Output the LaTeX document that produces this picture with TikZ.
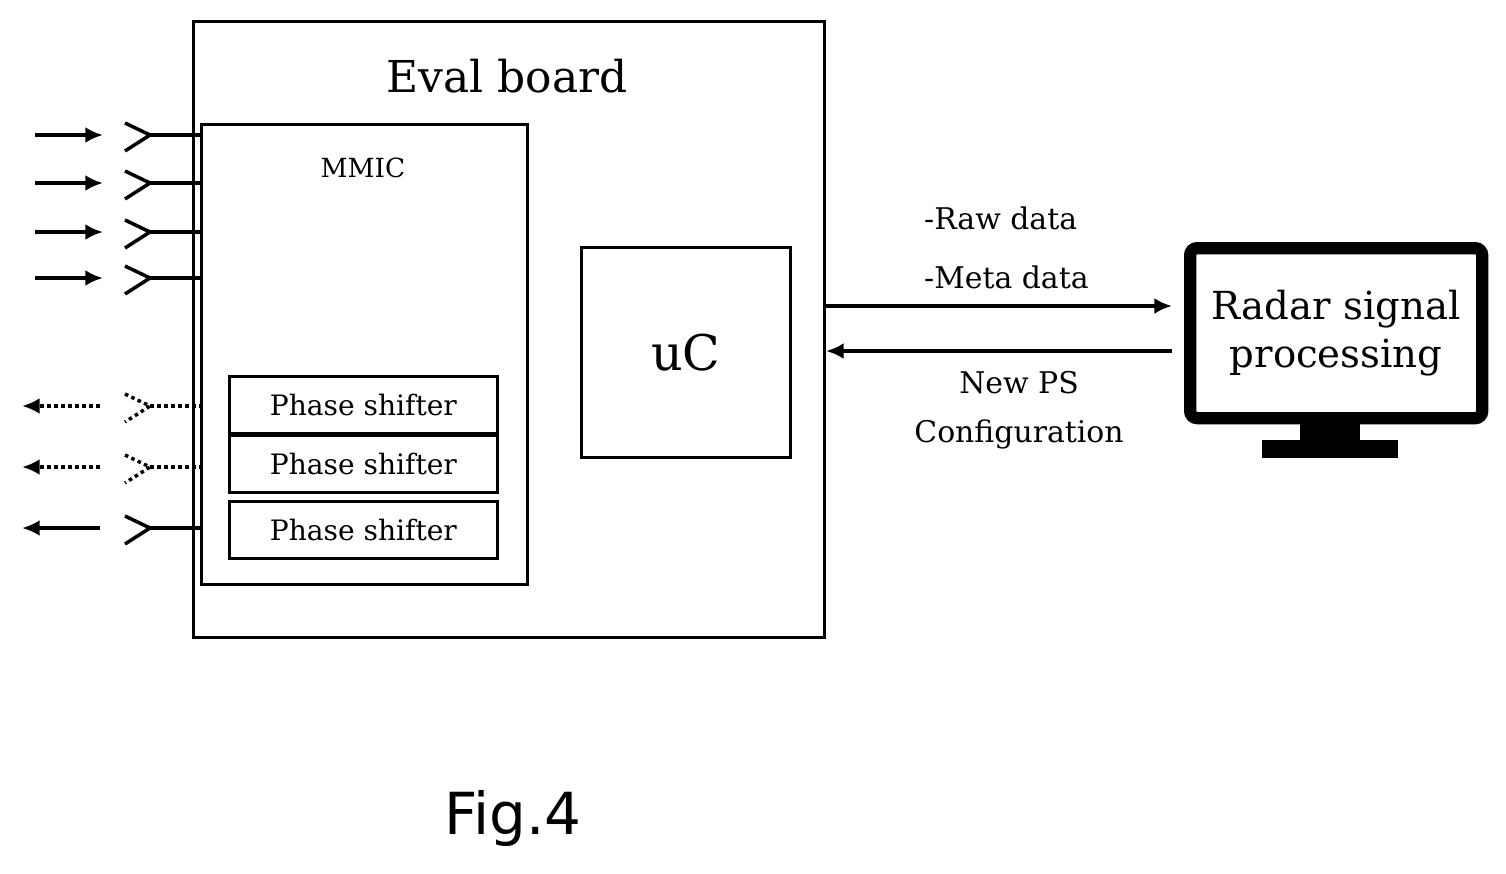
\documentclass[tikz,border=0pt]{standalone}
\usepackage{fontspec}
\setmainfont{DejaVu Serif}
\newfontfamily\figfont{DejaVu Sans}
\usetikzlibrary{arrows.meta}
\begin{document}
\begin{tikzpicture}[x=0.02cm,y=-0.02cm,
  box/.style={draw,line width=1.6pt},
  sig/.style={line width=2pt,-{Latex[length=10pt,width=9pt]}},
  ant/.style={line width=2pt}]
\useasboundingbox (0,0) rectangle (1506,873);
\node[box,minimum width=631*0.02cm,minimum height=616*0.02cm,anchor=north west] (eval) at (192,20) {};
\node[font=\fontsize{25}{25}\selectfont] (evt) at (507,76) {Eval board};
\node[box,minimum width=326*0.02cm,minimum height=460*0.02cm,anchor=north west] (mmic) at (200,123) {};
\node[font=\fontsize{15}{15}\selectfont] (mmt) at (363,168) {MMIC};
\foreach \n/\y in {1/375,2/434,3/500}
  \node[box,minimum width=268*0.02cm,minimum height=57*0.02cm,anchor=north west] (ps\n) at (228,\y) {};
\node[font=\fontsize{16}{16}\selectfont] at (ps1) {Phase shifter};
\node[font=\fontsize{16}{16}\selectfont] at (ps2) {Phase shifter};
\node[font=\fontsize{16}{16}\selectfont] at (ps3) {Phase shifter};
\node[box,minimum width=209*0.02cm,minimum height=210*0.02cm,anchor=north west] (uc) at (580,246) {};
\node[font=\fontsize{28}{28}\selectfont] at (uc) {uC};
% antennas
\foreach \n/\y/\st in {r1/135/solid,r2/183/solid,r3/232/solid,r4/278/solid,t1/406/dotted,t2/467/dotted,t3/528/solid}{
  \coordinate (a\n) at (150,\y);
  \coordinate (e\n) at (200,\y);
  \draw[ant,\st] (125,\y-12) -- (a\n) -- (125,\y+16);
  \draw[ant,\st] (a\n) -- (e\n);
}
\foreach \n/\y in {r1/135,r2/183,r3/232,r4/278}{
  \coordinate (s\n) at (35,\y); \coordinate (f\n) at (103,\y);
  \draw[sig] (s\n) -- (f\n);}
\foreach \n/\y/\st in {t1/406/dotted,t2/467/dotted,t3/528/solid}{
  \coordinate (s\n) at (100,\y); \coordinate (f\n) at (22,\y);
  \draw[sig,\st] (s\n) -- (f\n);}
% monitor
\node[draw,line width=7pt,rounded corners=4pt,minimum width=292*0.02cm,minimum height=170*0.02cm,anchor=north west,align=center,font=\fontsize{22}{27}\selectfont] (mon) at (1184,242) {Radar signal\\processing};
\fill (1300,421) rectangle (1360,442);
\fill (1262,440) rectangle (1398,458);
\coordinate (o1) at (823,306); \coordinate (i1) at (1172,306);
\coordinate (o2) at (1172,351); \coordinate (i2) at (826,351);
\draw[sig] (o1) -- (i1);
\draw[sig] (o2) -- (i2);
\node[font=\fontsize{17}{17}\selectfont,anchor=west] (raw) at (918,218) {-Raw data};
\node[font=\fontsize{17}{17}\selectfont,anchor=west] (meta) at (918,277) {-Meta data};
\node[font=\fontsize{17}{28}\selectfont,align=center] (nps) at (1019,410) {New PS\\Configuration};
\node[font=\figfont\fontsize{33}{33}\selectfont] (fig) at (513,818) {Fig.4};
\end{tikzpicture}
\end{document}
